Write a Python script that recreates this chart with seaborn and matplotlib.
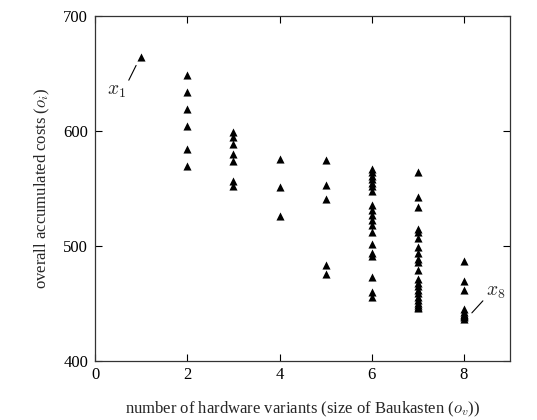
import matplotlib
matplotlib.use("Agg")
import matplotlib.pyplot as plt
import seaborn as sns
import pandas as pd

# hardware variants and the costs of the solutions found for each
variants_1 = [1]
costs_1 = [664]
variants_2 = [2] * 6
costs_2 = [649, 634, 619, 604, 584, 570]
variants_3 = [3] * 7
costs_3 = [599, 595, 589, 580, 574, 557, 552]
variants_4 = [4] * 3
costs_4 = [576, 551, 526]
variants_5 = [5] * 5
costs_5 = [575, 553, 541, 484, 476]
variants_6 = [6] * 19
costs_6 = [567, 564, 561, 558, 555, 552, 548, 536, 531, 527, 523, 518,
           512, 502, 494, 491, 473, 460, 456]
variants_7 = [7] * 22
costs_7 = [564, 543, 534, 515, 512, 507, 499, 494, 489, 486, 479, 471,
           468, 465, 462, 459, 456, 453, 451, 449, 447, 446]
variants_8 = [8] * 10
costs_8 = [487, 470, 462, 445, 443, 441, 440, 439, 438, 437]

x_ticks = [0, 2, 4, 6, 8]
y_ticks = [400, 500, 600, 700]

df = pd.DataFrame({
    "variants": variants_1 + variants_2 + variants_3 + variants_4
                + variants_5 + variants_6 + variants_7 + variants_8,
    "costs": costs_1 + costs_2 + costs_3 + costs_4
             + costs_5 + costs_6 + costs_7 + costs_8,
})

sns.set_style("ticks")
plt.rcParams["font.family"] = ["Liberation Serif", "DejaVu Serif"]
plt.rcParams["mathtext.fontset"] = "cm"

fig = plt.figure(figsize=(5.37, 4.2), dpi=100)
ax = fig.add_axes([0.177, 0.140, 0.773, 0.822])

sns.scatterplot(data=df, x="variants", y="costs", marker="^", color="black",
                s=34, linewidth=0, ax=ax)

ax.set_xlim(0, 9)
ax.set_ylim(400, 700)
ax.set_xticks(x_ticks)
ax.set_yticks(y_ticks)
ax.tick_params(direction="in", top=True, right=True, length=5, width=0.8,
               labelsize=12, colors="black", pad=5)
ax.tick_params(axis="x", pad=4)
for sp in ax.spines.values():
    sp.set_visible(True)
    sp.set_linewidth(0.9)
    sp.set_color("#333333")

ax.set_xlabel("number of hardware variants (size of Baukasten ($o_v$))",
              fontsize=12, labelpad=12)
ax.set_ylabel("overall accumulated costs ($o_i$)", fontsize=12, labelpad=8)

# annotations for the extreme solutions
ax.annotate("$x_1$", xy=(0.89, 657), xytext=(0.25, 634), fontsize=14,
            va="center", arrowprops=dict(arrowstyle="-", color="black",
                                         lw=0.8, shrinkA=0, shrinkB=0,
                                         relpos=(1.0, 0.8)))
ax.annotate("$x_8$", xy=(8.17, 442), xytext=(8.48, 460), fontsize=14,
            va="center", arrowprops=dict(arrowstyle="-", color="black",
                                         lw=0.8, shrinkA=0, shrinkB=0,
                                         relpos=(0.0, 0.2)))

fig.savefig("out.png", dpi=100)
